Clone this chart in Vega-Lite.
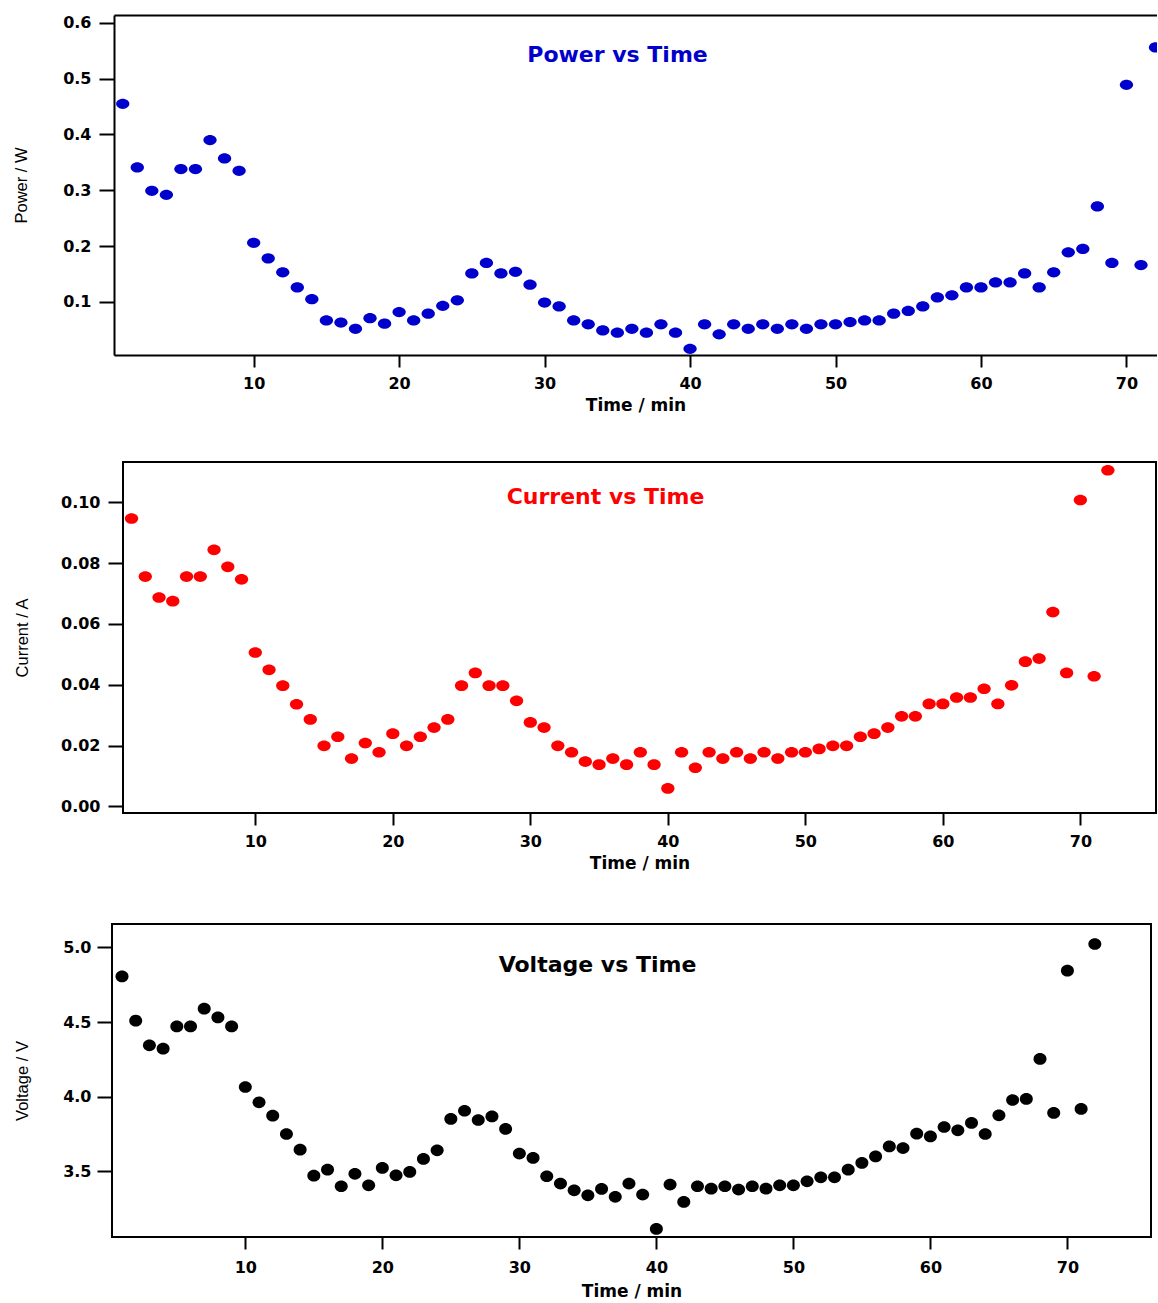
{
  "$schema": "https://vega.github.io/schema/vega-lite/v6.json",
  "background": "white",
  "padding": {"left": 0, "top": 14, "right": 0, "bottom": 2},
  "datasets": {
    "power": [
      {"t":1,"v":0.455},{"t":2,"v":0.341},{"t":3,"v":0.299},{"t":4,"v":0.292},{"t":5,"v":0.338},{"t":6,"v":0.338},{"t":7,"v":0.390},{"t":8,"v":0.357},{"t":9,"v":0.335},{"t":10,"v":0.206},
      {"t":11,"v":0.178},{"t":12,"v":0.153},{"t":13,"v":0.126},{"t":14,"v":0.105},{"t":15,"v":0.067},{"t":16,"v":0.063},{"t":17,"v":0.052},{"t":18,"v":0.071},{"t":19,"v":0.061},{"t":20,"v":0.082},
      {"t":21,"v":0.067},{"t":22,"v":0.079},{"t":23,"v":0.093},{"t":24,"v":0.103},{"t":25,"v":0.151},{"t":26,"v":0.170},{"t":27,"v":0.151},{"t":28,"v":0.154},{"t":29,"v":0.131},{"t":30,"v":0.099},
      {"t":31,"v":0.092},{"t":32,"v":0.067},{"t":33,"v":0.060},{"t":34,"v":0.049},{"t":35,"v":0.045},{"t":36,"v":0.052},{"t":37,"v":0.045},{"t":38,"v":0.060},{"t":39,"v":0.045},{"t":40,"v":0.016},
      {"t":41,"v":0.060},{"t":42,"v":0.042},{"t":43,"v":0.060},{"t":44,"v":0.052},{"t":45,"v":0.060},{"t":46,"v":0.052},{"t":47,"v":0.060},{"t":48,"v":0.052},{"t":49,"v":0.060},{"t":50,"v":0.060},
      {"t":51,"v":0.064},{"t":52,"v":0.067},{"t":53,"v":0.067},{"t":54,"v":0.079},{"t":55,"v":0.084},{"t":56,"v":0.092},{"t":57,"v":0.108},{"t":58,"v":0.112},{"t":59,"v":0.126},{"t":60,"v":0.126},
      {"t":61,"v":0.135},{"t":62,"v":0.135},{"t":63,"v":0.151},{"t":64,"v":0.126},{"t":65,"v":0.153},{"t":66,"v":0.189},{"t":67,"v":0.195},{"t":68,"v":0.271},{"t":69,"v":0.170},{"t":70,"v":0.489},
      {"t":71,"v":0.166},{"t":72,"v":0.556}
    ],
    "current": [
      {"t":1,"v":0.0947},{"t":2,"v":0.0756},{"t":3,"v":0.0687},{"t":4,"v":0.0675},{"t":5,"v":0.0756},{"t":6,"v":0.0756},{"t":7,"v":0.0844},{"t":8,"v":0.0788},{"t":9,"v":0.0747},{"t":10,"v":0.0506},
      {"t":11,"v":0.0449},{"t":12,"v":0.0397},{"t":13,"v":0.0336},{"t":14,"v":0.0286},{"t":15,"v":0.0199},{"t":16,"v":0.0229},{"t":17,"v":0.0157},{"t":18,"v":0.0208},{"t":19,"v":0.0178},{"t":20,"v":0.0239},
      {"t":21,"v":0.0199},{"t":22,"v":0.0229},{"t":23,"v":0.0259},{"t":24,"v":0.0286},{"t":25,"v":0.0397},{"t":26,"v":0.0439},{"t":27,"v":0.0397},{"t":28,"v":0.0397},{"t":29,"v":0.0347},{"t":30,"v":0.0276},
      {"t":31,"v":0.0259},{"t":32,"v":0.0199},{"t":33,"v":0.0178},{"t":34,"v":0.0147},{"t":35,"v":0.0137},{"t":36,"v":0.0157},{"t":37,"v":0.0137},{"t":38,"v":0.0178},{"t":39,"v":0.0137},{"t":40,"v":0.0059},
      {"t":41,"v":0.0178},{"t":42,"v":0.0127},{"t":43,"v":0.0178},{"t":44,"v":0.0157},{"t":45,"v":0.0178},{"t":46,"v":0.0157},{"t":47,"v":0.0178},{"t":48,"v":0.0157},{"t":49,"v":0.0178},{"t":50,"v":0.0178},
      {"t":51,"v":0.0189},{"t":52,"v":0.0199},{"t":53,"v":0.0199},{"t":54,"v":0.0229},{"t":55,"v":0.0239},{"t":56,"v":0.0259},{"t":57,"v":0.0296},{"t":58,"v":0.0296},{"t":59,"v":0.0337},{"t":60,"v":0.0337},
      {"t":61,"v":0.0358},{"t":62,"v":0.0358},{"t":63,"v":0.0387},{"t":64,"v":0.0337},{"t":65,"v":0.0398},{"t":66,"v":0.0476},{"t":67,"v":0.0486},{"t":68,"v":0.0639},{"t":69,"v":0.0439},{"t":70,"v":0.1008},
      {"t":71,"v":0.0428},{"t":72,"v":0.1106}
    ],
    "voltage": [
      {"t":1,"v":4.806},{"t":2,"v":4.509},{"t":3,"v":4.344},{"t":4,"v":4.322},{"t":5,"v":4.471},{"t":6,"v":4.471},{"t":7,"v":4.590},{"t":8,"v":4.531},{"t":9,"v":4.471},{"t":10,"v":4.065},
      {"t":11,"v":3.962},{"t":12,"v":3.873},{"t":13,"v":3.750},{"t":14,"v":3.645},{"t":15,"v":3.471},{"t":16,"v":3.511},{"t":17,"v":3.400},{"t":18,"v":3.483},{"t":19,"v":3.406},{"t":20,"v":3.523},
      {"t":21,"v":3.473},{"t":22,"v":3.496},{"t":23,"v":3.583},{"t":24,"v":3.641},{"t":25,"v":3.851},{"t":26,"v":3.906},{"t":27,"v":3.844},{"t":28,"v":3.868},{"t":29,"v":3.784},{"t":30,"v":3.619},
      {"t":31,"v":3.590},{"t":32,"v":3.467},{"t":33,"v":3.418},{"t":34,"v":3.373},{"t":35,"v":3.339},{"t":36,"v":3.382},{"t":37,"v":3.329},{"t":38,"v":3.418},{"t":39,"v":3.344},{"t":40,"v":3.114},
      {"t":41,"v":3.411},{"t":42,"v":3.295},{"t":43,"v":3.400},{"t":44,"v":3.384},{"t":45,"v":3.400},{"t":46,"v":3.378},{"t":47,"v":3.400},{"t":48,"v":3.384},{"t":49,"v":3.406},{"t":50,"v":3.406},
      {"t":51,"v":3.433},{"t":52,"v":3.460},{"t":53,"v":3.460},{"t":54,"v":3.511},{"t":55,"v":3.556},{"t":56,"v":3.600},{"t":57,"v":3.667},{"t":58,"v":3.656},{"t":59,"v":3.752},{"t":60,"v":3.734},
      {"t":61,"v":3.797},{"t":62,"v":3.775},{"t":63,"v":3.824},{"t":64,"v":3.750},{"t":65,"v":3.875},{"t":66,"v":3.978},{"t":67,"v":3.985},{"t":68,"v":4.253},{"t":69,"v":3.891},{"t":70,"v":4.844},
      {"t":71,"v":3.918},{"t":72,"v":5.023}
    ]
  },
  "config": {
    "view": {"stroke": "black", "strokeWidth": 2},
    "axis": {
      "domain": false, "grid": false, "tickColor": "black", "tickWidth": 2,
      "labelFont": "DejaVu Sans", "labelFontWeight": "bold", "labelFontSize": 16, "labelColor": "black",
      "titleColor": "black", "domainColor": "black", "domainWidth": 2
    },
    "axisX": {"tickSize": 12, "labelPadding": 8, "titleFont": "DejaVu Sans", "titleFontWeight": "bold", "titleFontSize": 17, "titlePadding": 6},
    "axisY": {"tickSize": 15, "labelPadding": 8, "titleFont": "Liberation Sans", "titleFontWeight": "normal", "titleFontSize": 16.5},
    "title": {"font": "DejaVu Sans", "fontWeight": "bold", "fontSize": 22, "anchor": "middle", "frame": "group"}
  },
  "vconcat": [
    {
      "vconcat": [
        {
          "hconcat": [
            {"width": 12.5, "height": 1, "view": {"stroke": null}, "data": {"values": []}, "mark": {"type": "point", "opacity": 0}},
            {
              "width": 1043, "height": 340,
              "view": {"stroke": null},
              "title": {"text": "Power vs Time", "color": "#0000CC", "dx": -18, "offset": -52},
              "data": {"name": "power"},
              "encoding": {
                "y": {"field": "v", "type": "quantitative",
                  "scale": {"domain": [0.005, 0.614], "nice": false, "zero": false},
                  "axis": {"values": [0.1, 0.2, 0.3, 0.4, 0.5, 0.6], "format": ".1f", "title": "Power / W", "domain": true, "titlePadding": 33}}
              },
              "layer": [
                {
                  "mark": {"type": "point", "filled": true, "opacity": 1, "color": "#0000CC", "size": 177, "clip": true,
                    "shape": "M-1,0C-1,-0.425,-0.552,-0.77,0,-0.77C0.552,-0.77,1,-0.425,1,0C1,0.425,0.552,0.77,0,0.77C-0.552,0.77,-1,0.425,-1,0Z"},
                  "encoding": {
                    "x": {"field": "t", "type": "quantitative",
                      "scale": {"domain": [0.4, 72.1], "nice": false, "zero": false},
                      "axis": {"values": [10, 20, 30, 40, 50, 60, 70], "title": "Time / min", "domain": true}}
                  }
                },
                {
                  "mark": {"type": "point", "filled": true, "opacity": 0, "size": 177, "clip": true},
                  "encoding": {
                    "x": {"field": "t", "type": "quantitative",
                      "axis": {"orient": "top", "labels": false, "ticks": false, "title": null, "domain": true}}
                  }
                }
              ],
              "resolve": {"axis": {"x": "independent"}}
            }
          ],
          "spacing": 0
        },
        {
          "hconcat": [
            {"width": 13, "height": 1, "view": {"stroke": null}, "data": {"values": []}, "mark": {"type": "point", "opacity": 0}},
            {
              "width": 1033, "height": 351,
              "title": {"text": "Current vs Time", "color": "#FF0000", "dx": -34, "offset": -47},
              "data": {"name": "current"},
              "mark": {"type": "point", "filled": true, "opacity": 1, "color": "#FF0000", "size": 177, "clip": true,
                "shape": "M-1,0C-1,-0.442,-0.552,-0.8,0,-0.8C0.552,-0.8,1,-0.442,1,0C1,0.442,0.552,0.8,0,0.8C-0.552,0.8,-1,0.442,-1,0Z"},
              "encoding": {
                "x": {"field": "t", "type": "quantitative",
                  "scale": {"domain": [0.38, 75.5], "nice": false, "zero": false},
                  "axis": {"values": [10, 20, 30, 40, 50, 60, 70], "title": "Time / min"}},
                "y": {"field": "v", "type": "quantitative",
                  "scale": {"domain": [-0.0022, 0.1133], "nice": false, "zero": false},
                  "axis": {"values": [0, 0.02, 0.04, 0.06, 0.08, 0.1], "format": ".2f", "title": "Current / A", "titlePadding": 30}}
              }
            }
          ],
          "spacing": 0
        }
      ],
      "spacing": 48
    },
    {
      "hconcat": [
        {"width": 12.5, "height": 1, "view": {"stroke": null}, "data": {"values": []}, "mark": {"type": "point", "opacity": 0}},
        {
          "width": 1039, "height": 313,
          "title": {"text": "Voltage vs Time", "color": "black", "dx": -34, "offset": -53},
          "data": {"name": "voltage"},
          "mark": {"type": "point", "filled": true, "opacity": 1, "color": "black", "size": 169, "clip": true,
            "shape": "M-1,0C-1,-0.497,-0.552,-0.9,0,-0.9C0.552,-0.9,1,-0.497,1,0C1,0.497,0.552,0.9,0,0.9C-0.552,0.9,-1,0.497,-1,0Z"},
          "encoding": {
            "x": {"field": "t", "type": "quantitative",
              "scale": {"domain": [0.27, 76.1], "nice": false, "zero": false},
              "axis": {"values": [10, 20, 30, 40, 50, 60, 70], "title": "Time / min", "labelPadding": 10, "titlePadding": 8}},
            "y": {"field": "v", "type": "quantitative",
              "scale": {"domain": [3.06, 5.157], "nice": false, "zero": false},
              "axis": {"values": [3.5, 4.0, 4.5, 5.0], "format": ".1f", "title": "Voltage / V", "labelPadding": 6, "titlePadding": 32}}
          }
        }
      ],
      "spacing": 0
    }
  ],
  "spacing": 51
}
